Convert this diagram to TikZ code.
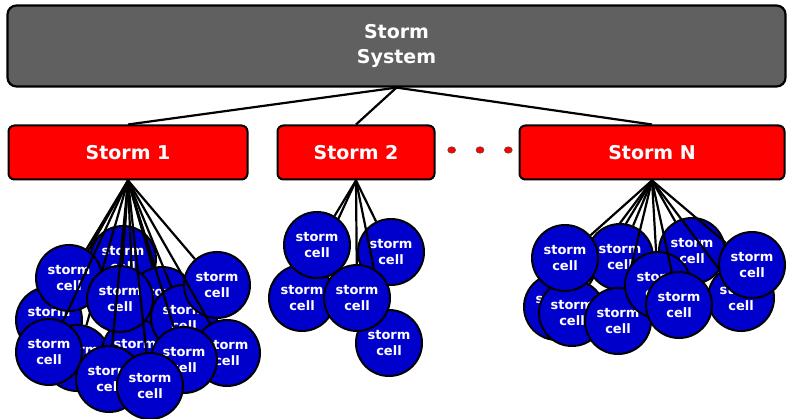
\documentclass[tikz,border=0pt]{standalone}
\usepackage{fontspec}
\setmainfont{DejaVu Sans}
\usetikzlibrary{shapes.geometric}
\definecolor{sysgray}{RGB}{96,96,96}
\definecolor{cellblue}{RGB}{0,0,204}
\definecolor{stormred}{RGB}{255,0,0}
\tikzset{
  sysbox/.style={draw=black, line width=2.2pt, fill=sysgray, rounded corners=9pt,
    minimum width=778pt, minimum height=81pt, inner sep=0pt, text=white, align=center,
    font=\fontsize{19}{25}\selectfont\bfseries},
  stormbox/.style={draw=black, line width=2pt, fill=stormred, rounded corners=6pt,
    minimum height=54pt, inner sep=0pt, text=white,
    font=\fontsize{19}{22}\selectfont\bfseries},
  cellnode/.style={circle, draw=black, line width=2pt, fill=cellblue, minimum size=66pt,
    inner sep=0pt, text=white, align=center,
    font=\fontsize{13}{16.5}\selectfont\bfseries},
  link/.style={draw=black, line width=2.2pt},
  dotnode/.style={ellipse, draw=black!70, line width=0.5pt, fill=stormred,
    minimum width=8pt, minimum height=6.5pt, inner sep=0pt}
}
\begin{document}
\begin{tikzpicture}[x=1pt,y=-1pt]
\useasboundingbox (0,0) rectangle (787,419);
\node[sysbox] (sys) at (396.5,46) {Storm\\System};
\node[stormbox, minimum width=239pt] (s1) at (128,152.5) {Storm 1};
\node[stormbox, minimum width=157pt] (s2) at (356,152.5) {Storm 2};
\node[stormbox, minimum width=265pt] (sn) at (652,152.5) {Storm N};
\draw[link] (sys.south) -- (s1.north);
\draw[link] (sys.south) -- (s2.north);
\draw[link] (sys.south) -- (sn.north);
\node[dotnode] (d1) at (451.7,150) {};
\node[dotnode] (d2) at (480,150) {};
\node[dotnode] (d3) at (508.3,150) {};
% cluster 1
\foreach \n/\x/\y in {a1/123/259, a2/49/320, a3/162/300, a4/77/358, a5/135/352,
  a6/69/278, a7/120/299, a8/184/318, a9/217/285, a10/227/353, a11/49/352,
  a12/184/360, a13/109/379, a14/150/386}{
  \node[cellnode] (\n) at (\x,\y) {storm\\cell};
  \draw[link] (s1.south) -- (\n);
}
% cluster 2
\foreach \n/\x/\y in {b1/302/298, b2/317/245, b3/391/252, b4/389/343, b5/357/298}{
  \node[cellnode] (\n) at (\x,\y) {storm\\cell};
  \draw[link] (s2.south) -- (\n);
}
% cluster 3
\foreach \n/\x/\y in {c1/557/307, c2/572/313, c3/620/257, c4/565/258, c5/618/321,
  c6/692/251, c7/658/285, c8/741/298, c9/752/265, c10/679/305}{
  \node[cellnode] (\n) at (\x,\y) {storm\\cell};
  \draw[link] (sn.south) -- (\n);
}
\end{tikzpicture}
\end{document}
